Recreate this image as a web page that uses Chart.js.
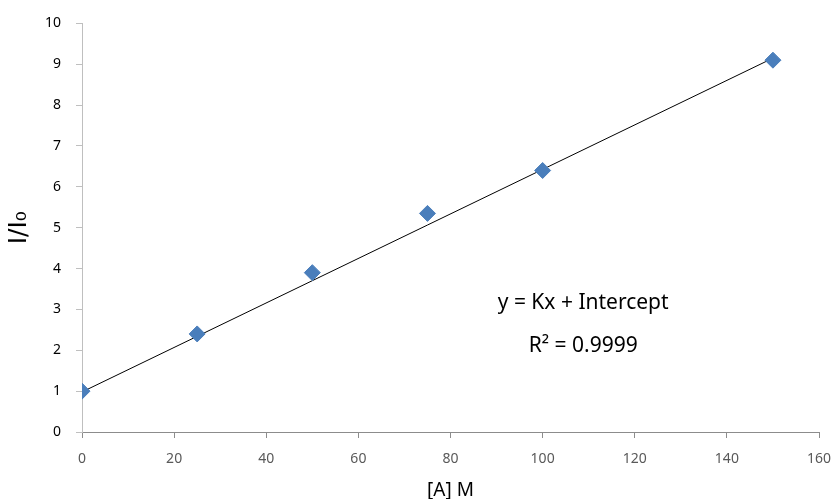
<!DOCTYPE html>
<html>
<head>
<meta charset="utf-8">
<script src="https://cdn.jsdelivr.net/npm/chart.js@4"></script>
<style>
  html, body { margin: 0; padding: 0; background: #fff; }
  #wrap { width: 833px; height: 499px; }
</style>
</head>
<body>
<div id="wrap"><canvas id="chart" width="833" height="499"></canvas></div>
<script>
const concX = [0, 25, 50, 75, 100, 150];
const ratioY = [1.0, 2.4, 3.9, 5.35, 6.4, 9.1];
const trendX = [0, 150];
const trendY = [0.98, 9.15];
const eqLines = ["y = Kx + Intercept", "R² = 0.9999"];

const axisGray = "#8c8c8c";
const sans = "'Noto Sans', 'DejaVu Sans', sans-serif";

// equation text drawn in data coordinates
const equationLabel = {
  id: "equationLabel",
  afterDatasetsDraw(chart) {
    const { ctx, scales } = chart;
    ctx.save();
    ctx.fillStyle = "#000";
    ctx.font = "21px " + sans;
    ctx.textAlign = "center";
    ctx.textBaseline = "middle";
    ctx.fillText(eqLines[0], scales.x.getPixelForValue(108.8), scales.y.getPixelForValue(3.15));
    ctx.fillText(eqLines[1], scales.x.getPixelForValue(108.8), scales.y.getPixelForValue(2.1));
    ctx.restore();
  },
};

new Chart(document.getElementById("chart"), {
  type: "scatter",
  data: {
    datasets: [
      {
        label: "data",
        data: concX.map((x, i) => ({ x, y: ratioY[i] })),
        pointStyle: "rectRot",
        pointRadius: 8,
        pointHoverRadius: 8,
        backgroundColor: "#4a7ebb",
        borderColor: "#4a7ebb",
        borderWidth: 1,
        order: 1,
      },
      {
        label: "trend",
        type: "line",
        data: trendX.map((x, i) => ({ x, y: trendY[i] })),
        borderColor: "#000",
        borderWidth: 1,
        pointRadius: 0,
        fill: false,
        order: 2,
      },
    ],
  },
  options: {
    responsive: false,
    animation: false,
    layout: { padding: { top: 23, right: 14 } },
    plugins: { legend: { display: false }, tooltip: { enabled: false } },
    scales: {
      x: {
        type: "linear",
        min: 0,
        max: 160,
        ticks: { stepSize: 20, color: "#595959", padding: 13, font: { size: 14, family: sans } },
        grid: { drawOnChartArea: false, tickLength: 6, color: axisGray },
        border: { color: axisGray },
        title: {
          display: true,
          text: "[A] M",
          color: "#000",
          font: { size: 19, family: sans },
          padding: { top: 4, bottom: -3 },
        },
        afterFit: (s) => {
          s.height = 67;
          s.paddingLeft = 0;
          s.paddingRight = 0;
        },
      },
      y: {
        min: 0,
        max: 10,
        ticks: { stepSize: 1, color: "#000", padding: 15, font: { size: 14, family: sans } },
        grid: { drawOnChartArea: false, tickLength: 6, color: "#bfbfbf" },
        border: { color: "#bfbfbf" },
        title: {
          display: true,
          text: "I/I₀",
          color: "#000",
          font: { size: 25, family: "'DejaVu Sans', sans-serif" },
          padding: { bottom: 2 },
        },
        afterFit: (s) => { s.width = 82; },
      },
    },
  },
  plugins: [equationLabel],
});
</script>
</body>
</html>
